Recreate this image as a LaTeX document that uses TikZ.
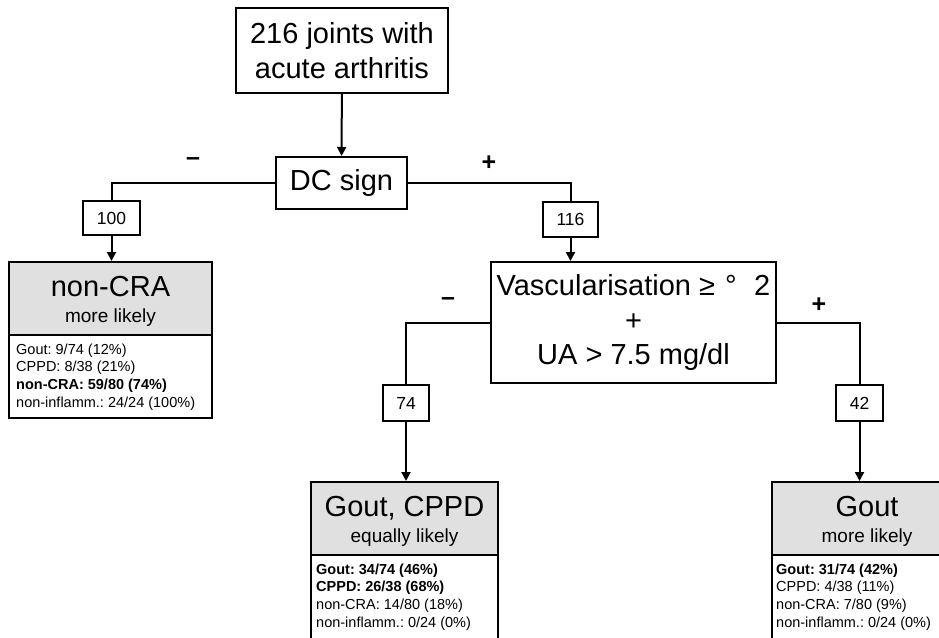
\documentclass[tikz,border=0pt]{standalone}
\usepackage{fontspec}
\setmainfont{Liberation Sans}
\usetikzlibrary{arrows.meta}
\definecolor{hdrgray}{RGB}{224,224,224}
\frenchspacing
\begin{document}
\begin{tikzpicture}[x=1pt,y=-1pt,
  ln/.style={line width=2pt},
  arr/.style={line width=2pt,-{Triangle[width=9pt,length=9pt]}},
  box/.style={draw,line width=2pt,inner sep=0pt,align=center},
  bigtxt/.style={font=\fontsize{29}{34.5}\selectfont},
  numbox/.style={box,font=\fontsize{17.5}{21}\selectfont},
  hdr/.style={draw,line width=2pt,fill=hdrgray,inner sep=0pt},
  bodybox/.style={draw,line width=2pt,fill=white,inner sep=0pt},
  htitle/.style={anchor=base,inner sep=0pt,font=\fontsize{29}{34}\selectfont},
  hsub/.style={anchor=base,inner sep=0pt,font=\fontsize{19}{22}\selectfont},
  bodytxt/.style={anchor=north west,inner sep=0pt,align=left,font=\fontsize{14.5}{17.7}\selectfont},
  sign/.style={inner sep=0pt,font=\fontsize{25}{28}\selectfont\bfseries}
]
\clip (0,0) rectangle (939,637);
\fill[white] (0,0) rectangle (939,637);

% top and first decision
\node[box,bigtxt,minimum width=212pt,minimum height=85pt] (top) at (342,50.5) {216 joints with\\acute arthritis};
\node[box,bigtxt,minimum width=131pt,minimum height=52pt] (dc) at (341.5,183) {DC sign};
\node[numbox,minimum width=57pt,minimum height=34pt] (n100) at (111.5,218) {100};
\node[numbox,minimum width=55pt,minimum height=35pt] (n116) at (570.5,219) {116};
\node[box,bigtxt,minimum width=285pt,minimum height=121pt] (vasc) at (633.5,322.5)
  {Vascularisation ≥\hspace{0.35em}°\hspace{0.6em}2\\+\\UA > 7.5 mg/dl};
\node[numbox,minimum width=46pt,minimum height=36pt] (n74) at (406,403) {74};
\node[numbox,minimum width=47pt,minimum height=36pt] (n42) at (859.5,403) {42};

% signs
\node[sign] (s1) at (193,162) {–};
\node[sign] (s2) at (489,163) {+};
\node[sign] (s3) at (448,302) {–};
\node[sign] (s4) at (819,305) {+};

% result: non-CRA
\node[hdr,minimum width=203pt,minimum height=73pt] (h1) at (110.5,298.5) {};
\node[bodybox,minimum width=203pt,minimum height=83pt] (b1) at (110.5,376.5) {};
\node[htitle] (h1t) at ([yshift=-35pt]h1.north) {non-CRA};
\node[hsub] (h1s) at ([yshift=-61pt]h1.north) {more likely};
\node[bodytxt] (b1t) at ([xshift=8pt,yshift=-9.5pt]b1.north west)
  {Gout: 9/74 (12\%)\\CPPD: 8/38 (21\%)\\\textbf{non-CRA: 59/80 (74\%)}\\non-inflamm.: 24/24 (100\%)};

% result: Gout, CPPD
\node[hdr,minimum width=187pt,minimum height=73pt] (h2) at (404.5,518.5) {};
\node[bodybox,minimum width=187pt,minimum height=100pt] (b2) at (404.5,605) {};
\node[htitle] (h2t) at ([yshift=-35pt]h2.north) {Gout, CPPD};
\node[hsub] (h2s) at ([yshift=-61pt]h2.north) {equally likely};
\node[bodytxt] (b2t) at ([xshift=6pt,yshift=-9.5pt]b2.north west)
  {\textbf{Gout: 34/74 (46\%)}\\\textbf{CPPD: 26/38 (68\%)}\\non-CRA: 14/80 (18\%)\\non-inflamm.: 0/24 (0\%)};

% result: Gout
\node[hdr,minimum width=190pt,minimum height=73pt] (h3) at (867,518.5) {};
\node[bodybox,minimum width=190pt,minimum height=100pt] (b3) at (867,605) {};
\node[htitle] (h3t) at ([yshift=-35pt]h3.north) {Gout};
\node[hsub] (h3s) at ([yshift=-61pt]h3.north) {more likely};
\node[bodytxt] (b3t) at ([xshift=5pt,yshift=-9.5pt]b3.north west)
  {\textbf{Gout: 31/74 (42\%)}\\CPPD: 4/38 (11\%)\\non-CRA: 7/80 (9\%)\\non-inflamm.: 0/24 (0\%)};

% connectors
\draw[arr] (top) -- (dc);
\draw[ln] (dc.west) -| (n100.north);
\draw[ln] (dc.east) -| (n116.north);
\draw[arr] (n100.south) -- (n100.south |- h1.north);
\draw[arr] (n116.south) -- (n116.south |- vasc.north);
\draw[ln] (vasc.west) -| (n74.north);
\draw[ln] (vasc.east) -| (n42.north);
\draw[arr] (n74.south) -- (n74.south |- h2.north);
\draw[arr] (n42.south) -- (n42.south |- h3.north);
\end{tikzpicture}
\end{document}
